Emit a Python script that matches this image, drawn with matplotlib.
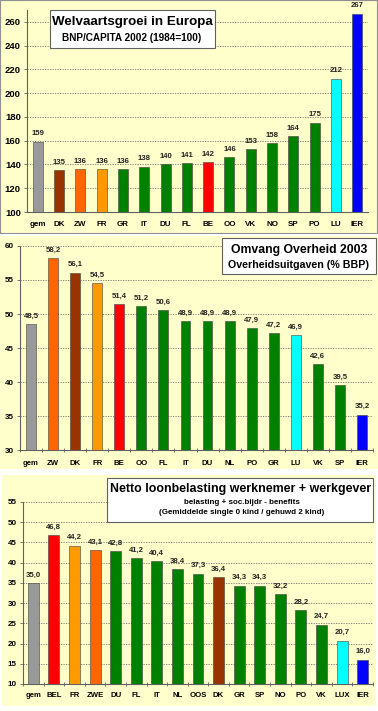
import matplotlib
matplotlib.use("Agg")
import matplotlib.pyplot as plt
from matplotlib.patches import Rectangle
import numpy as np

plt.rcParams['font.family'] = ['Liberation Sans', 'DejaVu Sans']

# kleuren
GEM = '#999999'
BRUIN = '#993300'
ROOD_ORANJE = '#FF6600'
ORANJE = '#FF9900'
GROEN = '#008000'
ROOD = '#FF0000'
CYAAN = '#00FFFF'
BLAUW = '#0000FF'

# Welvaartsgroei in Europa
landen1 = ['gem', 'DK', 'ZW', 'FR', 'GR', 'IT', 'DU', 'FL', 'BE', 'OO', 'VK', 'NO', 'SP', 'PO', 'LU', 'IER']
waarden1 = [159, 135, 136, 136, 136, 138, 140, 141, 142, 146, 153, 158, 164, 175, 212, 267]
kleuren1 = [GEM, BRUIN, ROOD_ORANJE, ORANJE, GROEN, GROEN, GROEN, GROEN, ROOD, GROEN,
            GROEN, GROEN, GROEN, GROEN, CYAAN, BLAUW]

# Omvang Overheid 2003
landen2 = ['gem', 'ZW', 'DK', 'FR', 'BE', 'OO', 'FL', 'IT', 'DU', 'NL', 'PO', 'GR', 'LU', 'VK', 'SP', 'IER']
waarden2 = [48.5, 58.2, 56.1, 54.5, 51.4, 51.2, 50.6, 48.9, 48.9, 48.9, 47.9, 47.2, 46.9, 42.6, 39.5, 35.2]
kleuren2 = [GEM, ROOD_ORANJE, BRUIN, ORANJE, ROOD, GROEN, GROEN, GROEN, GROEN, GROEN,
            GROEN, GROEN, CYAAN, GROEN, GROEN, BLAUW]

# Netto loonbelasting
landen3 = ['gem', 'BEL', 'FR', 'ZWE', 'DU', 'FL', 'IT', 'NL', 'OOS', 'DK', 'GR', 'SP', 'NO', 'PO', 'VK', 'LUX', 'IER']
waarden3 = [35.0, 46.8, 44.2, 43.1, 42.8, 41.2, 40.4, 38.4, 37.3, 36.4, 34.3, 34.3, 32.2, 28.2, 24.7, 20.7, 16.0]
kleuren3 = [GEM, ROOD, ORANJE, ROOD_ORANJE, GROEN, GROEN, GROEN, GROEN, GROEN, BRUIN,
            GROEN, GROEN, GROEN, GROEN, GROEN, CYAAN, BLAUW]

W, H = 378, 711
fig = plt.figure(figsize=(W / 100, H / 100), dpi=100)
fig.patch.set_facecolor('white')


def pix_rect(x0, y0, x1, y1):
    # pixel coords (top-left origin) -> figure fraction rect
    return [x0 / W, 1 - y1 / H, (x1 - x0) / W, (y1 - y0) / H]


def achtergrond(x0, y0, x1, y1, rand=None):
    l, b, w, h = pix_rect(x0, y0, x1, y1)
    fig.patches.append(Rectangle((l, b), w, h, transform=fig.transFigure,
                                 facecolor='#FFFFCC', edgecolor=rand or 'none',
                                 linewidth=0.8, zorder=-5))


def titelbox(x0, y0, x1, y1):
    l, b, w, h = pix_rect(x0, y0, x1, y1)
    fig.patches.append(Rectangle((l, b), w, h, transform=fig.transFigure,
                                 facecolor='white', edgecolor='#606060',
                                 linewidth=0.8, zorder=5))


def tekst(x, y, s, size):
    fig.text(x / W, 1 - y / H, s, ha='center', va='center', fontsize=size,
             fontweight='bold', color='black', zorder=6)


def paneel(rect, landen, waarden, kleuren, ylim, yticks, breedte, fmt,
           ysize, xsize, vsize, xpad, xticks_min=True):
    ax = fig.add_axes(pix_rect(*rect))
    ax.set_facecolor('none')
    x = np.arange(len(landen))
    ax.bar(x, waarden, width=breedte, color=kleuren, edgecolor='#404040',
           linewidth=0.4, zorder=3)
    for xi, v in zip(x, waarden):
        ax.annotate(fmt(v), (xi, v), xytext=(0, 3.2), textcoords='offset points',
                    ha='center', va='bottom', fontsize=vsize, fontweight='bold',
                    color='#222222', zorder=4)
    ax.set_xlim(-0.5, len(landen) - 0.5)
    ax.set_ylim(*ylim)
    ax.set_yticks(yticks)
    ax.set_yticklabels([str(t) for t in yticks], fontsize=ysize, fontweight='bold')
    ax.set_xticks(x)
    ax.set_xticklabels(landen, fontsize=xsize, fontweight='bold')
    ax.tick_params(axis='x', length=0, pad=xpad)
    ax.tick_params(axis='y', length=2.5, width=0.6, pad=2, color='#606060')
    if xticks_min:
        ax.set_xticks(np.arange(-0.5, len(landen), 1.0), minor=True)
        ax.tick_params(axis='x', which='minor', length=2.5, width=0.6,
                       color='#606060', direction='inout')
    ax.yaxis.grid(True, linestyle=(0, (1.5, 1.5)), color='#707070', linewidth=0.6, zorder=1)
    ax.set_axisbelow(True)
    for s in ['top', 'right']:
        ax.spines[s].set_visible(False)
    for s in ['left', 'bottom']:
        ax.spines[s].set_color('#606060')
        ax.spines[s].set_linewidth(0.8)
    return ax


# paneel 1
achtergrond(0, 0, 377, 233, rand='#909090')
paneel((27, 10, 368, 212), landen1, waarden1, kleuren1, (100, 270),
       list(range(100, 261, 20)), 0.47, lambda v: f'{v:d}', 6.8, 5.8, 5.6, 6.5,
       xticks_min=False)
titelbox(50, 10, 215, 48)
tekst(132, 22, 'Welvaartsgroei in Europa', 9.6)
tekst(132, 38, 'BNP/CAPITA 2002 (1984=100)', 7.2)

# paneel 2
achtergrond(0, 236, 378, 469)
paneel((20, 246, 373, 450), landen2, waarden2, kleuren2, (30, 60),
       list(range(30, 61, 5)), 0.45, lambda v: f'{v:.1f}'.replace('.', ','),
       5.8, 5.6, 5.6, 7)
titelbox(222, 238, 376, 274)
tekst(299, 250, 'Omvang Overheid 2003', 8.8)
tekst(298, 265, 'Overheidsuitgaven (% BBP)', 7.7)

# paneel 3
achtergrond(2, 475, 376, 706)
paneel((23, 502, 373, 684), landen3, waarden3, kleuren3, (10, 55),
       list(range(10, 56, 5)), 0.53, lambda v: f'{v:.1f}'.replace('.', ','),
       5.8, 5.6, 5.6, 5.5)
titelbox(107, 478, 373, 522)
tekst(241, 489, 'Netto loonbelasting werknemer + werkgever', 8.9)
tekst(242, 502, 'belasting + soc.bijdr - benefits', 5.8)
tekst(242, 513, '(Gemiddelde single 0 kind / gehuwd 2 kind)', 5.8)

fig.savefig('out.png', dpi=100, facecolor=fig.get_facecolor())
